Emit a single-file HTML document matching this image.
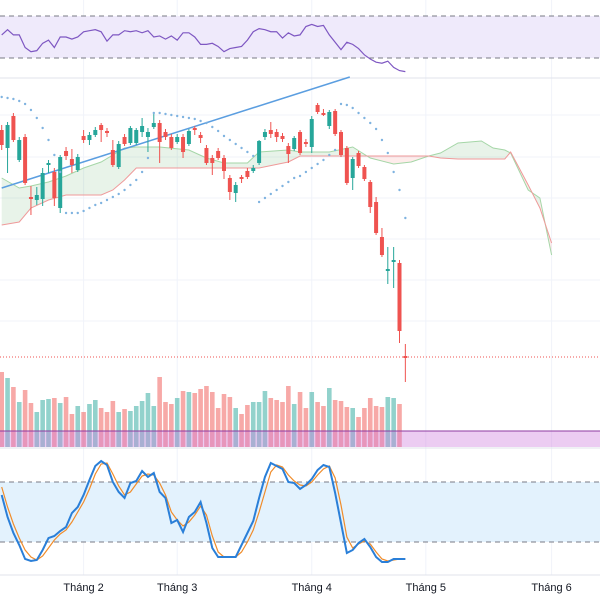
<!DOCTYPE html>
<html><head><meta charset="utf-8"><style>
html,body{margin:0;padding:0;background:#fff;}
svg{display:block;font-family:"Liberation Sans",sans-serif;}
</style></head><body>
<svg id="c" width="600" height="600" viewBox="0 0 600 600"></svg>
<script>
const opens=[270,252,284,240,263,203,200,201,235,228,192,249,241,230,264,260,265,275,269,250,233,263,257,257,268,263,273,277,268,263,258,263,256,272,265,252,242,249,242,222,207,223,229,229,237,263,270,268,264,254,251,268,258,253,295,287,274,289,268,252,222,247,233,218,198,163,129,138,137,44];
const closes=[255,275,260,260,217,201,205,227,237,202,243,244,235,243,260,265,270,270,267,235,256,256,272,270,274,268,277,258,263,252,263,248,269,270,262,237,237,242,229,208,215,221,223,232,259,268,266,263,261,246,262,247,256,281,288,285,288,266,245,217,241,234,221,193,167,145,131,140,69,42];
const highs=[275,278,287,263,266,214,213,232,240,232,245,253,251,246,270,268,273,277,272,260,259,266,274,272,282,272,286,280,271,266,266,266,271,274,268,255,245,252,245,225,218,225,232,235,260,271,278,271,267,257,264,270,261,284,297,291,290,291,270,254,243,249,235,220,203,172,153,153,140,56];
const lows=[250,227,258,238,215,185,195,194,227,194,187,240,227,228,257,255,263,258,263,233,231,254,255,255,263,248,271,237,260,250,256,242,254,265,257,235,225,240,221,200,198,217,221,227,235,260,262,258,258,237,249,245,253,247,286,284,271,264,243,215,210,232,219,187,165,143,116,112,57,18];
const volumes=[75,69,60,45,57,44,35,47,48,49,44,50,33,41,35,43,47,39,35,46,35,38,36,41,46,54,41,70,45,43,49,56,55,54,58,61,55,39,53,50,39,33,42,45,45,56,49,47,45,61,43,55,39,55,45,41,59,47,46,40,39,30,39,49,41,40,50,49,43,0];
const sar=[303,302,301,299,296,290,282,272,260,245,228,187,187,187,189,192,195,197,200,203,206,210,215,220,228,242,287,287,286,285,284,283,282,281,279,277,273,269,264,260,256,252,248,244,198,202,206,210,214,218,222,224,228,232,236,240,245,250,296,295,292,287,282,277,271,260,247,228,210,182];
const cloudIdx=[0,3,5,8,11,14,17,19,21,23,27,32,35,38,42,44,49,51,56,60,63,67,70,73,75,78,82,84,86,87,90,92,94];
const spanA=[222,212,214,218,224,232,238,245,252,253,253,250,242,237,237,248,250,248,248,253,242,236,238,244,247,257,259,252,250,247,210,202,145];
const spanB=[175,178,192,200,205,205,205,210,220,232,232,232,232,232,232,232,238,244,244,244,244,244,244,244,242,241,241,241,241,248,215,192,157];
const rsi=[52,57,52,52,40,36,37,44,47,40,50,50,48,50,55,56,57,55,46,52,52,56,55,56,54,56,50,51,48,51,47,54,54,50,43,43,44,41,36,39,40,41,47,55,58,57,55,55,49,54,51,52,60,62,60,61,52,45,38,45,43,39,33,29,26,25,27,21,18,17];
const stochK=[67,45,29,17,3,1,2,12,24,26,31,35,49,55,67,82,96,101,97,80,70,64,79,81,91,85,89,70,64,39,42,30,45,50,60,39,14,5,5,5,5,17,29,41,64,85,99,96,93,80,79,73,77,83,92,97,95,69,39,9,12,19,23,15,5,0,0,3,3,3];
const stochD=[75,55,38,24,12,5,2,6,14,22,28,32,40,50,60,73,88,98,99,88,76,67,70,78,86,88,87,79,67,50,42,36,40,47,56,47,26,10,5,5,5,10,20,32,50,70,90,97,95,87,81,77,76,80,87,93,96,84,57,25,14,18,21,18,10,3,1,2,3,3];
const monthLabels=["Tháng 2","Tháng 3","Tháng 4","Tháng 5","Tháng 6"];
const monthIdx=[14,30,53,72.5,94];
const trendStart=[0,212],trendEnd=[59.5,323];
const lastPrice=43;

const NS="http://www.w3.org/2000/svg";
const svg=document.getElementById('c');
function el(t,a,p){const e=document.createElementNS(NS,t);for(const k in a)e.setAttribute(k,a[k]);(p||svg).appendChild(e);return e;}
const xI=i=>1.7+i*5.85;
const yP=p=>400-p;
const yV=v=>447-v;
const yR=r=>16+(70-r)*1.05;
const yS=s=>562-s;
const teal="#26a69a",red="#ef5350";

const g=el('g',{});
[115,157,198,239,280,321].forEach(y=>el('line',{x1:0,x2:600,y1:y,y2:y,stroke:'#f0f3fa'},g));
[510,522].forEach(y=>el('line',{x1:0,x2:600,y1:y,y2:y,stroke:'#f0f3fa'},g));
monthIdx.forEach(i=>el('line',{x1:xI(i),x2:xI(i),y1:0,y2:575,stroke:'#f0f3fa'},g));
[78,448,575].forEach(y=>el('line',{x1:0,x2:600,y1:y,y2:y,stroke:'#e0e3eb'},g));

const rg=el('g',{});
el('rect',{x:0,y:yR(70),width:600,height:yR(30)-yR(70),fill:'#efeafb'},rg);
[70,30].forEach(v=>el('line',{x1:0,x2:600,y1:yR(v),y2:yR(v),stroke:'#787b86','stroke-dasharray':'5,4'},rg));
const rl=el('polyline',{points:rsi.map((v,i)=>xI(i)+','+yR(v)).join(' '),fill:'none',stroke:'#7e57c2','stroke-width':1.2},rg);


const cg=el('g',{});
for(let k=0;k<cloudIdx.length-1;k++){
  const x1=xI(cloudIdx[k]),x2=xI(cloudIdx[k+1]);
  const up=(spanA[k]+spanA[k+1])>=(spanB[k]+spanB[k+1]);
  el('polygon',{points:`${x1},${yP(spanA[k])} ${x2},${yP(spanA[k+1])} ${x2},${yP(spanB[k+1])} ${x1},${yP(spanB[k])}`,fill:up?'rgba(67,160,71,0.12)':'rgba(244,67,54,0.10)'},cg);
}
el('polyline',{points:cloudIdx.map((c,k)=>xI(c)+','+yP(spanA[k])).join(' '),fill:'none',stroke:'#a5d6a7','stroke-width':1},cg);
el('polyline',{points:cloudIdx.map((c,k)=>xI(c)+','+yP(spanB[k])).join(' '),fill:'none',stroke:'#ef9a9a','stroke-width':1},cg);

const tl=el('line',{x1:xI(trendStart[0]),y1:yP(trendStart[1]),x2:xI(trendEnd[0]),y2:yP(trendEnd[1]),stroke:'#5b9ee0','stroke-width':1.5});


const pl=el('line',{x1:0,x2:600,y1:yP(lastPrice),y2:yP(lastPrice),stroke:'#ef5350','stroke-dasharray':'1,2'});


const vg=el('g',{});
volumes.forEach((v,i)=>{
  const col=closes[i]>=opens[i]?'rgba(38,166,154,0.5)':'rgba(239,83,80,0.5)';
  const r=el('rect',{x:xI(i)-2.3,y:yV(v),width:4.6,height:v,fill:col},vg);
  
  
});
el('rect',{x:0,y:431,width:600,height:16,fill:'rgba(206,120,220,0.38)'},vg);
el('line',{x1:0,x2:600,y1:431,y2:431,stroke:'#8e3aa0','stroke-width':1},vg);

const kg=el('g',{});
opens.forEach((o,i)=>{
  const c=closes[i],col=c>=o?teal:red,x=xI(i);
  const cg2=el('g',{},kg);
  
  
  el('line',{x1:x,x2:x,y1:yP(highs[i]),y2:yP(lows[i]),stroke:col,'stroke-width':1},cg2);
  const top=yP(Math.max(o,c)),bot=yP(Math.min(o,c));
  el('rect',{x:x-2,y:top,width:4,height:Math.max(1,bot-top),fill:col},cg2);
});

const sg=el('g',{});
sar.forEach((v,i)=>el('circle',{cx:xI(i),cy:yP(v),r:1.2,fill:'#7fb3e0'},sg));

const stg=el('g',{});
el('rect',{x:0,y:yS(80),width:600,height:yS(20)-yS(80),fill:'#e3f2fd'},stg);
[80,20].forEach(v=>el('line',{x1:0,x2:600,y1:yS(v),y2:yS(v),stroke:'#787b86','stroke-dasharray':'5,4'},stg));
const dl=el('polyline',{points:stochD.map((v,i)=>xI(i)+','+yS(v)).join(' '),fill:'none',stroke:'#f08c2a','stroke-width':1.2},stg);

const kl=el('polyline',{points:stochK.map((v,i)=>xI(i)+','+yS(v)).join(' '),fill:'none',stroke:'#2a7fd8','stroke-width':2},stg);


const xg=el('g',{});
monthLabels.forEach((m,k)=>{
  const t=el('text',{x:xI(monthIdx[k]),y:591,'text-anchor':'middle','font-size':11,fill:'#131722'},xg);
  t.textContent=m;
  
  
});
</script>
</body></html>
